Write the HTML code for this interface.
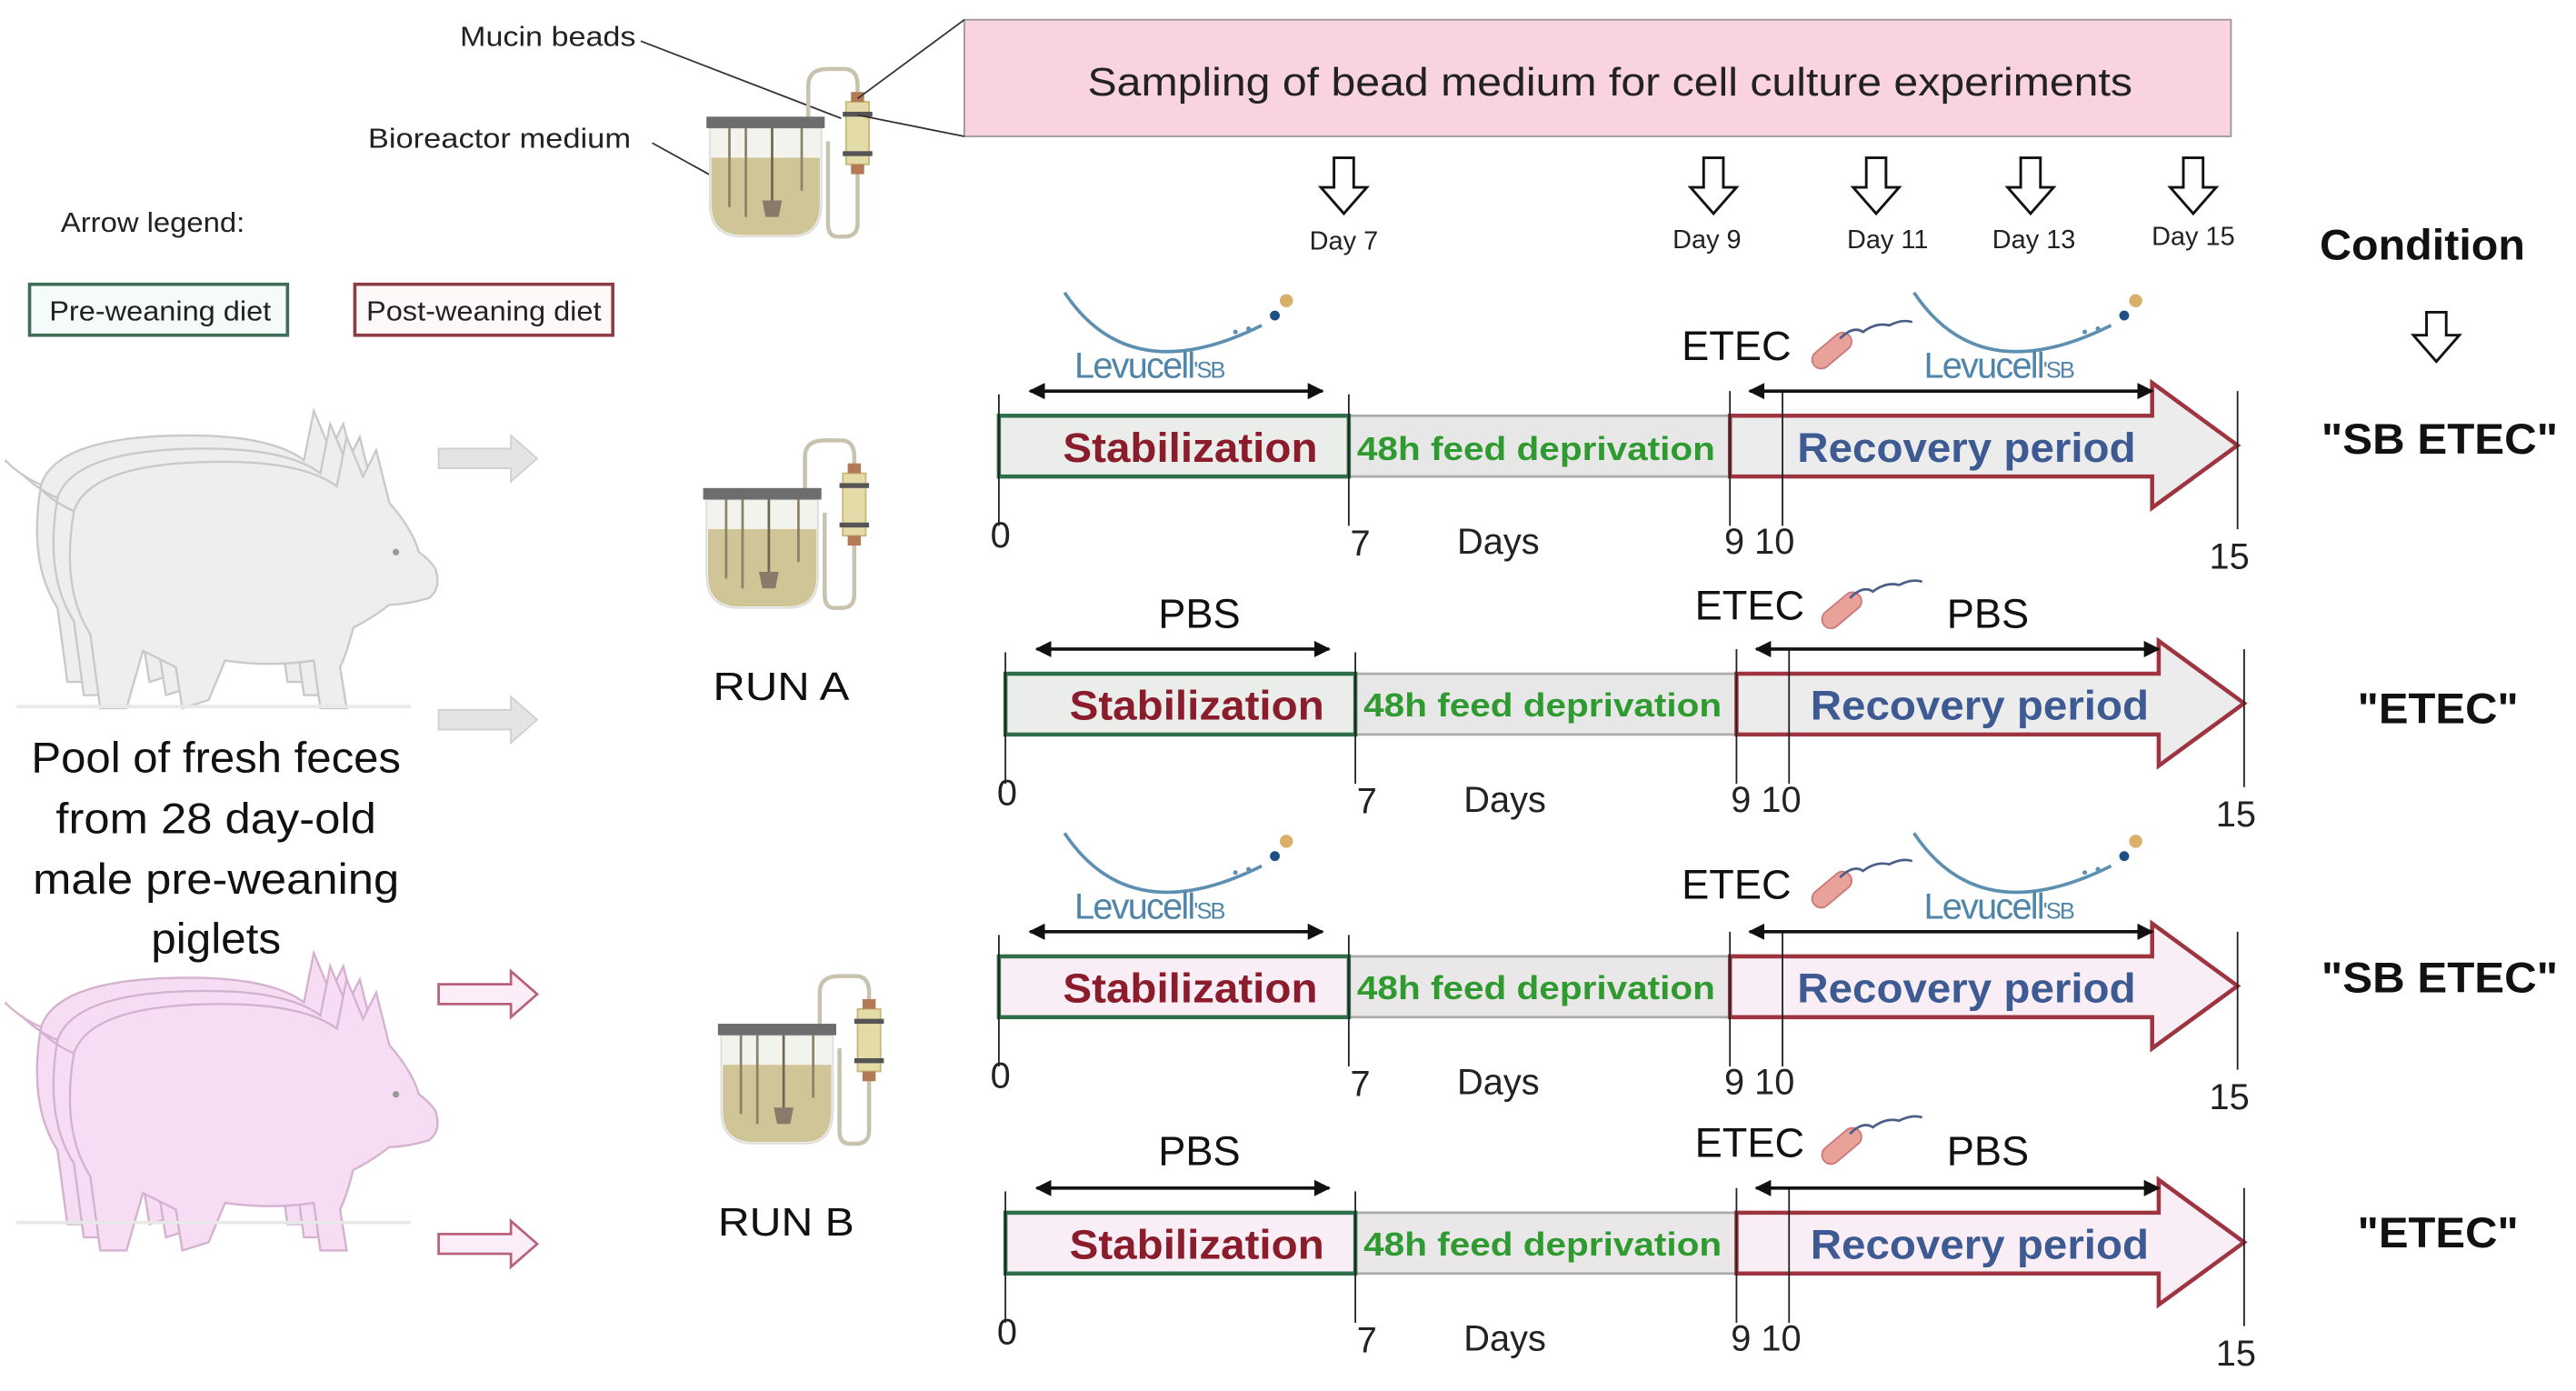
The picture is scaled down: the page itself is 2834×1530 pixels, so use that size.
<!DOCTYPE html>
<html><head><meta charset="utf-8"><style>
html,body{margin:0;padding:0;background:#fff;}
svg{display:block;}
text{font-family:"Liberation Sans",sans-serif;}
.c{font-family:"Liberation Sans Narrow","Liberation Sans",sans-serif;}
</style></head><body>
<svg width="2834" height="1530" viewBox="0 0 1568 846.5" preserveAspectRatio="none" xmlns="http://www.w3.org/2000/svg">
<defs>
<marker id="ah" viewBox="0 0 10 10" refX="9" refY="5" markerWidth="5" markerHeight="5" orient="auto-start-reverse"><path d="M0,0 L10,5 L0,10 z" fill="#111"/></marker>
<g id="pig">
<path d="M30,45 Q40,15 120,15 Q170,15 190,30 L196,0 L206,24 L214,8 L222,40 Q236,56 240,70 Q246,74 250,80 Q254,92 246,98 Q232,102 222,102 Q212,110 200,116 Q196,132 192,140 L196,165 L180,165 L176,136 Q150,140 122,136 L112,160 L96,165 L92,140 L72,130 L62,165 L46,165 L40,120 Q22,92 30,45 Z" stroke-width="1.3"/>
<path d="M30,45 Q18,40 8,30" fill="none" stroke-width="1.3"/>
<circle cx="226" cy="70" r="2" fill="#999" stroke="none"/>
</g>
<g id="bio">
<path d="M62,40 L62,-14 Q62,-24 74,-24 L84,-24 Q92,-24 92,-14 L92,70 Q92,78 84,78 L80,78 Q74,78 74,70 L74,20" fill="none" stroke="#c8c3ae" stroke-width="2.5"/>
<rect x="85" y="-4" width="14" height="38" fill="#e4dca8" stroke="#c9b77a"/>
<rect x="83" y="2" width="18" height="3" fill="#555"/>
<rect x="83" y="26" width="18" height="3" fill="#555"/>
<rect x="88" y="-10" width="8" height="6" fill="#b47a55"/>
<rect x="88" y="34" width="8" height="6" fill="#b47a55"/>
<path d="M2,12 L2,58 Q2,78 22,78 L52,78 Q70,78 70,58 L70,12 Z" fill="#f3f3ee" stroke="#ddd"/>
<path d="M3,30 L69,30 L69,58 Q69,77 52,77 L22,77 Q3,77 3,58 Z" fill="#cfc597"/>
<rect x="0" y="5" width="72" height="7" fill="#6d6d6d"/>
<line x1="14" y1="12" x2="14" y2="60" stroke="#8a8266" stroke-width="1.5"/>
<line x1="24" y1="12" x2="24" y2="66" stroke="#8a8266" stroke-width="1.5"/>
<line x1="40" y1="12" x2="40" y2="60" stroke="#6e6650" stroke-width="1.5"/>
<line x1="58" y1="12" x2="58" y2="50" stroke="#8a8266" stroke-width="1.5"/>
<path d="M34,56 L46,56 L44,66 L36,66 Z" fill="#8a7a6a"/>
</g>
<g id="levu">
<path d="M0,0 Q40,60 120,20" fill="none" stroke="#5d8fb0" stroke-width="2"/>
<circle cx="128" cy="14" r="3" fill="#1f4f82"/>
<circle cx="135" cy="5" r="4" fill="#d8b068"/>
<circle cx="112" cy="22" r="1.4" fill="#5d8fb0"/><circle cx="104" cy="24" r="1.4" fill="#5d8fb0"/>
<text x="6" y="52" font-size="22" fill="#4f85a8" class="c" letter-spacing="-1">Levucell<tspan font-size="14">'SB</tspan></text>
</g>
<g id="etec">
<rect x="0" y="-5" width="28" height="11" rx="5.5" fill="#e9a29a" stroke="#c77" transform="rotate(-40)"/>
<path d="M16,-16 q8,-8 14,-4 q8,-6 16,-4 q8,-4 14,-2" fill="none" stroke="#4c5d88" stroke-width="1.5"/>
</g>
<g id="row">
<line x1="608" y1="240" x2="608" y2="320" stroke="#222" stroke-width="1"/>
<line x1="821" y1="240" x2="821" y2="320" stroke="#222" stroke-width="1"/>
<line x1="1053" y1="238" x2="1053" y2="320" stroke="#222" stroke-width="1"/>
<line x1="1085" y1="238" x2="1085" y2="320" stroke="#222" stroke-width="1"/>
<line x1="1362" y1="238" x2="1362" y2="322" stroke="#222" stroke-width="1"/>
<text x="609" y="333" font-size="22" class="c" text-anchor="middle" fill="#222">0</text>
<text x="828" y="338" font-size="22" class="c" text-anchor="middle" fill="#222">7</text>
<text x="912" y="337" font-size="22" class="c" text-anchor="middle" fill="#222">Days</text>
<text x="1071" y="337" font-size="22" class="c" text-anchor="middle" fill="#222">9 10</text>
<text x="1357" y="346" font-size="22" class="c" text-anchor="middle" fill="#222">15</text>
<line x1="627" y1="238" x2="805" y2="238" stroke="#111" stroke-width="2" marker-start="url(#ah)" marker-end="url(#ah)"/>
<line x1="1065" y1="238" x2="1310" y2="238" stroke="#111" stroke-width="2" marker-start="url(#ah)" marker-end="url(#ah)"/>
</g>
</defs>

<!-- Top labels -->
<text x="280" y="28" font-size="17" fill="#222" textLength="107" lengthAdjust="spacingAndGlyphs">Mucin beads</text>
<text x="224" y="90" font-size="17" fill="#222" textLength="160" lengthAdjust="spacingAndGlyphs">Bioreactor medium</text>
<line x1="390" y1="25" x2="512" y2="72" stroke="#333" stroke-width="1"/>
<line x1="397" y1="87" x2="435" y2="108" stroke="#333" stroke-width="1"/>
<use href="#bio" x="430" y="66"/>
<rect x="587" y="12" width="771" height="71" fill="#f9d3df" stroke="#999" stroke-width="1"/>
<text x="662" y="58" font-size="24" fill="#222" textLength="636" lengthAdjust="spacingAndGlyphs">Sampling of bead medium for cell culture experiments</text>
<line x1="587" y1="12" x2="522" y2="60" stroke="#333" stroke-width="1"/>
<line x1="587" y1="83" x2="522" y2="70" stroke="#333" stroke-width="1"/>

<!-- Day arrows -->
<g fill="#fff" stroke="#111" stroke-width="1.6">
<path d="M812,96 h12 v18 h8 l-14,16 l-14,-16 h8 z"/>
<path d="M1037,96 h12 v18 h8 l-14,16 l-14,-16 h8 z"/>
<path d="M1136,96 h12 v18 h8 l-14,16 l-14,-16 h8 z"/>
<path d="M1230,96 h12 v18 h8 l-14,16 l-14,-16 h8 z"/>
<path d="M1329,96 h12 v18 h8 l-14,16 l-14,-16 h8 z"/>
<path d="M1477,190 h12 v14 h8 l-14,16 l-14,-16 h8 z"/>
</g>
<g font-size="16" fill="#222" text-anchor="middle">
<text x="818" y="152">Day 7</text>
<text x="1039" y="151">Day 9</text>
<text x="1149" y="151">Day 11</text>
<text x="1238" y="151">Day 13</text>
<text x="1335" y="149">Day 15</text>
</g>
<text x="1412" y="158" font-size="26" font-weight="bold" fill="#111" textLength="125" lengthAdjust="spacingAndGlyphs">Condition</text>
<g font-size="26" font-weight="bold" fill="#111" lengthAdjust="spacingAndGlyphs">
<text x="1413" y="276" textLength="144" lengthAdjust="spacingAndGlyphs">"SB ETEC"</text>
<text x="1435" y="440" textLength="98" lengthAdjust="spacingAndGlyphs">"ETEC"</text>
<text x="1413" y="604" textLength="144" lengthAdjust="spacingAndGlyphs">"SB ETEC"</text>
<text x="1435" y="759" textLength="98" lengthAdjust="spacingAndGlyphs">"ETEC"</text>
</g>

<!-- Legend -->
<text x="37" y="141" font-size="17" fill="#222" textLength="112" lengthAdjust="spacingAndGlyphs">Arrow legend:</text>
<rect x="18" y="173" width="157" height="31" fill="#f4fbf8" stroke="#3e6e58" stroke-width="2"/>
<text x="30" y="195" font-size="17" fill="#222" textLength="135" lengthAdjust="spacingAndGlyphs">Pre-weaning diet</text>
<rect x="216" y="173" width="157" height="31" fill="#fff8f9" stroke="#8b3c45" stroke-width="2"/>
<text x="223" y="195" font-size="17" fill="#222" textLength="143" lengthAdjust="spacingAndGlyphs">Post-weaning diet</text>

<!-- Pigs -->
<g fill="#eeeeee" stroke="#c9c9c9">
<use href="#pig" x="-5" y="250"/>
<use href="#pig" x="5" y="258"/>
<use href="#pig" x="15" y="266"/>
</g>
<line x1="10" y1="430" x2="250" y2="430" stroke="#e8e8e8" stroke-width="2"/>
<g fill="#f7ddf3" stroke="#d4b2cf">
<use href="#pig" x="-5" y="580"/>
<use href="#pig" x="5" y="588"/>
<use href="#pig" x="15" y="596"/>
</g>
<line x1="10" y1="744" x2="250" y2="744" stroke="#e8e8e8" stroke-width="2"/>
<g font-size="26" fill="#111">
<text x="19" y="470" textLength="225" lengthAdjust="spacingAndGlyphs">Pool of fresh feces</text>
<text x="34" y="507" textLength="195" lengthAdjust="spacingAndGlyphs">from 28 day-old</text>
<text x="20" y="544" textLength="223" lengthAdjust="spacingAndGlyphs">male pre-weaning</text>
<text x="92" y="580" textLength="79" lengthAdjust="spacingAndGlyphs">piglets</text>
</g>
<g fill="#e4e4e4" stroke="#cfcfcf" stroke-width="1">
<path d="M267,273 h44 v-8 l16,14 l-16,14 v-8 h-44 z"/>
<path d="M267,432 h44 v-8 l16,14 l-16,14 v-8 h-44 z"/>
</g>
<g fill="#fbeef8" stroke="#b9607a" stroke-width="1.5">
<path d="M267,599 h44 v-8 l16,14 l-16,14 v-8 h-44 z"/>
<path d="M267,751 h44 v-8 l16,14 l-16,14 v-8 h-44 z"/>
</g>

<use href="#bio" x="428" y="292"/>
<use href="#bio" x="437" y="618"/>
<text x="434" y="426" font-size="24" fill="#111" textLength="83" lengthAdjust="spacingAndGlyphs">RUN A</text>
<text x="437" y="752" font-size="24" fill="#111" textLength="83" lengthAdjust="spacingAndGlyphs">RUN B</text>

<!-- Row 1 -->
<g>
<rect x="821" y="253" width="232" height="37" fill="#e7e7e7" stroke="#aaa" stroke-width="1.5"/>
<rect x="608" y="253" width="213" height="37" fill="#ebedeb" stroke="#2e6e48" stroke-width="2.5"/>
<path d="M1053,253 L1310,253 L1310,233 L1362,271 L1310,309 L1310,290 L1053,290 Z" fill="#ececec" stroke="#9e3440" stroke-width="2.5"/>
<use href="#row"/>
</g>
<g transform="translate(4,157)">
<rect x="821" y="253" width="232" height="37" fill="#e7e7e7" stroke="#aaa" stroke-width="1.5"/>
<rect x="608" y="253" width="213" height="37" fill="#ebedeb" stroke="#2e6e48" stroke-width="2.5"/>
<path d="M1053,253 L1310,253 L1310,233 L1362,271 L1310,309 L1310,290 L1053,290 Z" fill="#ececec" stroke="#9e3440" stroke-width="2.5"/>
<use href="#row"/>
</g>
<g transform="translate(0,329)">
<rect x="821" y="253" width="232" height="37" fill="#e9e7e8" stroke="#aaa" stroke-width="1.5"/>
<rect x="608" y="253" width="213" height="37" fill="#f9eef5" stroke="#2e6e48" stroke-width="2.5"/>
<path d="M1053,253 L1310,253 L1310,233 L1362,271 L1310,309 L1310,290 L1053,290 Z" fill="#f9eef5" stroke="#9e3440" stroke-width="2.5"/>
<use href="#row"/>
</g>
<g transform="translate(4,485)">
<rect x="821" y="253" width="232" height="37" fill="#e9e7e8" stroke="#aaa" stroke-width="1.5"/>
<rect x="608" y="253" width="213" height="37" fill="#f9eef5" stroke="#2e6e48" stroke-width="2.5"/>
<path d="M1053,253 L1310,253 L1310,233 L1362,271 L1310,309 L1310,290 L1053,290 Z" fill="#f9eef5" stroke="#9e3440" stroke-width="2.5"/>
<use href="#row"/>
</g>

<!-- Bar texts -->
<g font-weight="bold">
<g font-size="25" fill="#8a1c2c">
<text x="647" y="281" textLength="155" lengthAdjust="spacingAndGlyphs">Stabilization</text>
<text x="651" y="438" textLength="155" lengthAdjust="spacingAndGlyphs">Stabilization</text>
<text x="647" y="610" textLength="155" lengthAdjust="spacingAndGlyphs">Stabilization</text>
<text x="651" y="766" textLength="155" lengthAdjust="spacingAndGlyphs">Stabilization</text>
</g>
<g font-size="20" fill="#2f9a2f">
<text x="826" y="280" textLength="218" lengthAdjust="spacingAndGlyphs">48h  feed deprivation</text>
<text x="830" y="436" textLength="218" lengthAdjust="spacingAndGlyphs">48h  feed deprivation</text>
<text x="826" y="608" textLength="218" lengthAdjust="spacingAndGlyphs">48h  feed deprivation</text>
<text x="830" y="764" textLength="218" lengthAdjust="spacingAndGlyphs">48h  feed deprivation</text>
</g>
<g font-size="25" fill="#3d5a92">
<text x="1094" y="281" textLength="206" lengthAdjust="spacingAndGlyphs">Recovery period</text>
<text x="1102" y="438" textLength="206" lengthAdjust="spacingAndGlyphs">Recovery period</text>
<text x="1094" y="610" textLength="206" lengthAdjust="spacingAndGlyphs">Recovery period</text>
<text x="1102" y="766" textLength="206" lengthAdjust="spacingAndGlyphs">Recovery period</text>
</g>
</g>

<use href="#levu" x="648" y="178"/>
<use href="#levu" x="1165" y="178"/>
<use href="#levu" x="648" y="507"/>
<use href="#levu" x="1165" y="507"/>
<g class="c" font-size="25" fill="#111" text-anchor="middle">
<text x="1057" y="219">ETEC</text>
<text x="1065" y="377">ETEC</text>
<text x="1057" y="547">ETEC</text>
<text x="1065" y="704">ETEC</text>
<text x="730" y="382">PBS</text>
<text x="1210" y="382">PBS</text>
<text x="730" y="709">PBS</text>
<text x="1210" y="709">PBS</text>
</g>
<use href="#etec" x="1104" y="222"/>
<use href="#etec" x="1110" y="380"/>
<use href="#etec" x="1104" y="550"/>
<use href="#etec" x="1110" y="706"/>
</svg>
</body></html>
